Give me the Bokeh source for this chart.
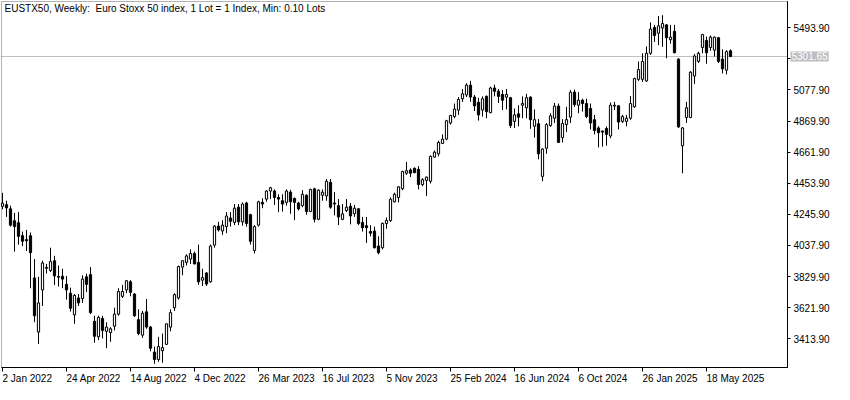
from bokeh.plotting import figure
from bokeh.models import (ColumnDataSource, Range1d, LinearAxis, FixedTicker,
                          PrintfTickFormatter, Label, BoxAnnotation)
from bokeh.embed import file_html
from bokeh.resources import INLINE

# Weekly bars, first bar = week of 2 Jan 2022
opens = [4300, 4311, 4283, 4203, 4190, 4103, 4077, 4103, 3821, 3459,
         3741, 3891, 3871, 3936, 3830, 3832, 3778, 3719, 3574, 3687,
         3683, 3828, 3843, 3531, 3427, 3550, 3464, 3455, 3498, 3579,
         3698, 3741, 3795, 3713, 3542, 3438, 3594, 3492, 3325, 3275,
         3334, 3377, 3492, 3622, 3687, 3893, 3925, 3947, 3984, 3925,
         3806, 3854, 3795, 4040, 4168, 4135, 4164, 4222, 4192, 4294,
         4196, 4322, 4244, 4005, 4174, 4326, 4348, 4402, 4402, 4359,
         4337, 4326, 4395, 4352, 4322, 4304, 4374, 4265, 4417, 4213,
         4374, 4369, 4460, 4322, 4304, 4213, 4272, 4300, 4250, 4283,
         4192, 4170, 4131, 4135, 4034, 4023, 4185, 4205, 4330, 4359,
         4417, 4521, 4543, 4554, 4547, 4445, 4473, 4467, 4629, 4651,
         4720, 4749, 4857, 4900, 4943, 5019, 5045, 5110, 5030, 4995,
         4944, 5035, 4926, 5091, 5069, 5048, 5030, 5026, 4868, 4918,
         4976, 4959, 5030, 4835, 4852, 4500, 4688, 4840, 4889, 4970,
         4759, 4846, 4896, 5063, 4976, 5009, 4987, 4954, 4879, 4824,
         4803, 4820, 4770, 4970, 4972, 4868, 4868, 4889, 4965, 5149,
         5149, 5138, 5323, 5496, 5457, 5492, 5513, 5414, 5470, 5284,
         4705, 4894, 4894, 5171, 5269, 5362, 5409, 5362, 5344, 5427,
         5284, 5210, 5340]
highs = [4390, 4337, 4304, 4255, 4261, 4131, 4142, 4125, 3947, 3828,
         3936, 3915, 4023, 3969, 3904, 3882, 3834, 3756, 3713, 3713,
         3839, 3850, 3893, 3568, 3568, 3568, 3524, 3492, 3622, 3752,
         3774, 3806, 3806, 3720, 3611, 3600, 3680, 3500, 3362, 3427,
         3449, 3514, 3611, 3719, 3904, 3936, 3979, 4012, 3997, 4044,
         3882, 3860, 4044, 4174, 4196, 4207, 4261, 4261, 4315, 4315,
         4326, 4330, 4250, 4174, 4337, 4354, 4408, 4430, 4413, 4380,
         4380, 4413, 4410, 4359, 4330, 4408, 4380, 4417, 4424, 4413,
         4413, 4482, 4482, 4395, 4348, 4315, 4348, 4322, 4309, 4287,
         4229, 4229, 4174, 4164, 4099, 4192, 4225, 4359, 4391, 4434,
         4538, 4597, 4554, 4560, 4569, 4488, 4499, 4640, 4673, 4738,
         4781, 4878, 4911, 4987, 5030, 5084, 5123, 5139, 5045, 5025,
         5035, 5041, 5100, 5113, 5084, 5078, 5084, 5030, 4954, 4976,
         5035, 5052, 5035, 4948, 4883, 4688, 4857, 4922, 4991, 4987,
         4883, 4965, 5078, 5080, 5063, 5019, 5019, 4987, 4911, 4835,
         4807, 4835, 4994, 4998, 4976, 4911, 4911, 5037, 5160, 5268,
         5323, 5370, 5529, 5513, 5572, 5578, 5518, 5513, 5513, 5290,
         4830, 4998, 5203, 5318, 5334, 5453, 5435, 5442, 5435, 5431,
         5349, 5344, 5349]
lows = [4280, 4229, 4164, 3997, 4044, 4034, 4001, 3752, 3525, 3379,
        3633, 3850, 3860, 3774, 3763, 3752, 3676, 3596, 3514, 3633,
        3654, 3726, 3579, 3388, 3405, 3416, 3351, 3394, 3470, 3568,
        3687, 3719, 3698, 3560, 3438, 3420, 3481, 3330, 3247, 3260,
        3254, 3373, 3464, 3600, 3676, 3839, 3904, 3914, 3914, 3774,
        3767, 3767, 3789, 4023, 4131, 4109, 4120, 4164, 4174, 4174,
        4170, 4164, 4044, 3984, 4164, 4287, 4330, 4348, 4309, 4261,
        4265, 4304, 4250, 4207, 4272, 4294, 4244, 4261, 4192, 4207,
        4337, 4337, 4283, 4239, 4174, 4207, 4261, 4179, 4229, 4174,
        4131, 4055, 4099, 4018, 3979, 4012, 4150, 4195, 4326, 4326,
        4408, 4510, 4495, 4521, 4413, 4434, 4369, 4452, 4625, 4634,
        4716, 4742, 4846, 4889, 4911, 4998, 5030, 4998, 4937, 4873,
        4900, 4889, 4922, 5035, 4991, 4944, 4948, 4824, 4824, 4835,
        4889, 4889, 4818, 4759, 4614, 4467, 4651, 4831, 4857, 4723,
        4727, 4796, 4857, 4965, 4922, 4933, 4889, 4814, 4781, 4694,
        4699, 4705, 4755, 4944, 4814, 4857, 4835, 4878, 4959, 5138,
        5132, 5132, 5312, 5399, 5377, 5366, 5290, 5388, 5323, 4824,
        4521, 4857, 4889, 5117, 5258, 5323, 5253, 5340, 5301, 5258,
        5188, 5182, 5297]
closes = [4320, 4289, 4174, 4164, 4099, 4066, 4070, 3990, 3568, 3654,
          3921, 3886, 3930, 3834, 3826, 3813, 3741, 3618, 3704, 3654,
          3813, 3778, 3589, 3431, 3557, 3470, 3492, 3481, 3579, 3730,
          3730, 3802, 3724, 3568, 3449, 3585, 3492, 3351, 3275, 3362,
          3355, 3514, 3589, 3709, 3897, 3936, 3968, 3984, 3914, 3795,
          3823, 3780, 4034, 4168, 4142, 4174, 4235, 4200, 4287, 4196,
          4315, 4185, 4066, 4164, 4330, 4315, 4402, 4424, 4359, 4348,
          4315, 4402, 4330, 4326, 4283, 4380, 4265, 4413, 4213, 4408,
          4394, 4467, 4294, 4315, 4229, 4250, 4294, 4235, 4287, 4185,
          4157, 4157, 4120, 4023, 3990, 4185, 4205, 4347, 4380, 4430,
          4532, 4538, 4521, 4525, 4445, 4478, 4495, 4634, 4662, 4727,
          4749, 4872, 4907, 4950, 5015, 5052, 5110, 5030, 4972, 4911,
          5019, 4933, 5091, 5069, 5035, 5009, 5048, 4840, 4911, 4896,
          4987, 5026, 4879, 4879, 4651, 4683, 4846, 4905, 4970, 4727,
          4853, 4879, 5063, 4980, 5009, 4987, 4900, 4857, 4807, 4792,
          4796, 4781, 4976, 4976, 4863, 4900, 4889, 4987, 5154, 5214,
          5268, 5323, 5485, 5442, 5507, 5522, 5427, 5431, 5327, 4831,
          4824, 4959, 5197, 5305, 5323, 5448, 5327, 5431, 5431, 5269,
          5219, 5334, 5301.65]

date_tick_weeks = [0, 16, 32, 48, 64, 80, 96, 112, 128, 144, 160, 176]
date_tick_labels = ["2 Jan 2022", "24 Apr 2022", "14 Aug 2022", "4 Dec 2022",
                    "26 Mar 2023", "16 Jul 2023", "5 Nov 2023", "25 Feb 2024",
                    "16 Jun 2024", "6 Oct 2024", "26 Jan 2025", "18 May 2025"]
price_ticks = [3413.90, 3621.90, 3829.90, 4037.90, 4245.90, 4453.90,
               4661.90, 4869.90, 5077.90, 5285.90, 5493.90]
last_price = 5301.65
header = "EUSTX50, Weekly:\u00a0 Euro Stoxx 50 index, 1 Lot = 1 Index, Min: 0.10 Lots"

FONT = "Liberation Sans"
W, H = 834, 384
PX_X = 4.0                    # pixels per week
UPP = 6.687                   # price units per pixel
X_LEFT, X_RIGHT = -0.25, 196.25          # chart border (weeks)
Y_TOP = 5669.4                           # chart border top (price)
Y_BOT = Y_TOP - 366 * UPP                # chart border bottom (price)
x_start = X_LEFT - 1 / PX_X
y_end = Y_TOP + 1 * UPP

weeks = list(range(len(opens)))
def build(sel):
    idx = [i for i in weeks if sel(i)]
    return ColumnDataSource(dict(
        x=idx,
        top=[max(opens[i], closes[i]) for i in idx],
        bottom=[min(opens[i], closes[i]) for i in idx],
        high=[highs[i] for i in idx],
        low=[lows[i] for i in idx]))

src_all = build(lambda i: True)
src_up = build(lambda i: closes[i] >= opens[i])
src_dn = build(lambda i: closes[i] < opens[i])

p = figure(width=W, height=H,
           x_range=Range1d(x_start, x_start + W / PX_X),
           y_range=Range1d(y_end - H * UPP, y_end),
           output_backend="svg", toolbar_location=None,
           x_axis_location=None, y_axis_location=None,
           min_border_left=0, min_border_top=0, min_border_right=0,
           min_border_bottom=0,
           background_fill_color="white", border_fill_color="white",
           outline_line_color=None)
p.xgrid.grid_line_color = None
p.ygrid.grid_line_color = None

# last price line
p.segment(x0=[X_LEFT], x1=[X_RIGHT], y0=[last_price], y1=[last_price],
          line_color="#C0C0C0", line_width=1)

# candles
p.segment(x0="x", y0="low", x1="x", y1="high", source=src_all,
          line_color="black", line_width=1)
p.vbar(x="x", top="top", bottom="bottom", width=0.55, source=src_up,
       fill_color="white", line_color="black", line_width=1)
p.vbar(x="x", top="top", bottom="bottom", width=0.55, source=src_dn,
       fill_color="black", line_color="black", line_width=1)

# chart border
p.add_layout(BoxAnnotation(left=X_LEFT, right=X_RIGHT, bottom=Y_BOT, top=Y_TOP,
                           fill_alpha=0, line_color="black", line_width=1))

# price labels hidden under the last-price tag keep only their tick mark
covered = [t for t in price_ticks if abs(t - last_price) < 8 * UPP]
shown = [t for t in price_ticks if t not in covered]

axis_style = dict(fixed_location=X_RIGHT, bounds=(Y_BOT, Y_TOP),
                  major_tick_out=3, major_tick_in=0,
                  minor_tick_line_color=None,
                  major_label_standoff=3,
                  major_label_text_font=FONT,
                  major_label_text_font_size="10px",
                  axis_line_color="black")
yaxis = LinearAxis(ticker=FixedTicker(ticks=shown),
                   formatter=PrintfTickFormatter(format="%.2f"),
                   major_label_text_color="black", **axis_style)
p.add_layout(yaxis, "right")
yaxis_hidden = LinearAxis(ticker=FixedTicker(ticks=covered),
                          formatter=PrintfTickFormatter(format="%.2f"),
                          major_label_text_color=None, **axis_style)
p.add_layout(yaxis_hidden, "right")

xaxis = LinearAxis(ticker=FixedTicker(ticks=date_tick_weeks),
                   fixed_location=Y_BOT, bounds=(X_LEFT, X_RIGHT),
                   major_tick_out=4, major_tick_in=0,
                   minor_tick_line_color=None,
                   major_label_text_color=None,
                   axis_line_color="black")
p.add_layout(xaxis, "below")

for w, t in zip(date_tick_weeks, date_tick_labels):
    p.add_layout(Label(x=w, y=Y_BOT - 5 * UPP, text=t,
                       text_align="left", text_baseline="top",
                       text_font=FONT, text_font_size="10px",
                       text_color="black"))

tag_kw = {}
if "padding" in Label.properties():
    tag_kw["padding"] = 1
p.add_layout(Label(x=X_RIGHT + 3 / PX_X, y=last_price, text=f"{last_price:.2f}",
                   text_align="left", text_baseline="middle",
                   text_font=FONT, text_font_size="10px",
                   text_color="white", background_fill_color="#BEBEBE",
                   level="overlay", **tag_kw))

p.add_layout(Label(x=X_LEFT + 3 / PX_X, y=Y_TOP - 1.5 * UPP, text=header,
                   text_align="left", text_baseline="top",
                   text_font=FONT, text_font_size="10px",
                   text_color="black"))

open("out.html", "w").write(file_html(p, INLINE))
